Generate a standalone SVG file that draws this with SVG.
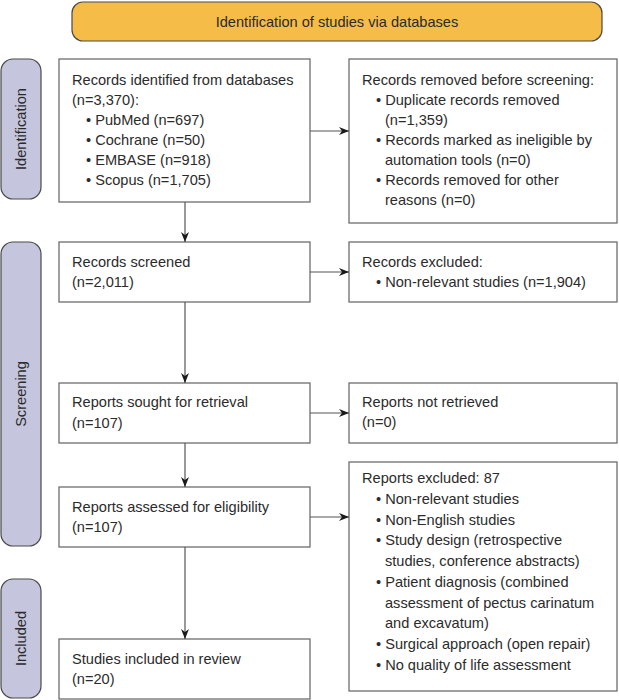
<svg xmlns="http://www.w3.org/2000/svg" width="619" height="700" viewBox="0 0 619 700">
<defs>
<marker id="arr" viewBox="0 0 10 8" refX="10" refY="4" markerWidth="10" markerHeight="8" markerUnits="userSpaceOnUse" orient="auto">
<path d="M0,0 L10,4 L0,8 L3,4 z" fill="#1a1a1a"/>
</marker>
<style>
text{font-family:"Liberation Sans",Arial,Helvetica,sans-serif;font-size:14.6px;fill:#2b2b2b}
.box{fill:#fff;stroke:#6e6e6e;stroke-width:1.3}
.pill{fill:#c5c6dd;stroke:#4a4a4a;stroke-width:1.2}
.banner{fill:#f5bd47;stroke:#4a4a4a;stroke-width:1.2}
.mid{text-anchor:middle}
.conn line{stroke:#555;stroke-width:1.2;marker-end:url(#arr)}
</style>
</defs>
<rect width="619" height="700" fill="#fff"/>
<g id="banner">
<rect class="banner" x="72" y="2" width="530" height="39" rx="11"/>
<text class="mid" x="337" y="26.5">Identification of studies via databases</text>
</g>
<g id="phase-identification">
<rect class="pill" x="1" y="59" width="40" height="140" rx="12"/>
<text class="mid" transform="translate(26,129) rotate(-90)">Identification</text>
</g>
<g id="phase-screening">
<rect class="pill" x="1" y="242" width="40" height="304" rx="12"/>
<text class="mid" transform="translate(26,394) rotate(-90)">Screening</text>
</g>
<g id="phase-included">
<rect class="pill" x="1" y="579" width="40" height="119" rx="12"/>
<text class="mid" transform="translate(26,638.5) rotate(-90)">Included</text>
</g>
<g id="records-identified">
<rect class="box" x="59" y="59" width="251" height="143"/>
<text x="72" y="85">Records identified from databases</text>
<text x="72" y="105">(n=3,370):</text>
<text x="86" y="125">• PubMed (n=697)</text>
<text x="86" y="145">• Cochrane (n=50)</text>
<text x="86" y="165">• EMBASE (n=918)</text>
<text x="86" y="185">• Scopus (n=1,705)</text>
</g>
<g id="records-removed">
<rect class="box" x="349" y="59" width="268" height="164"/>
<text x="362" y="85">Records removed before screening:</text>
<text x="376" y="105">• Duplicate records removed</text>
<text x="385" y="125">(n=1,359)</text>
<text x="376" y="145">• Records marked as ineligible by</text>
<text x="385" y="165">automation tools (n=0)</text>
<text x="376" y="185">• Records removed for other</text>
<text x="385" y="205">reasons (n=0)</text>
</g>
<g id="records-screened">
<rect class="box" x="59" y="242" width="251" height="60"/>
<text x="72" y="267">Records screened</text>
<text x="72" y="287">(n=2,011)</text>
</g>
<g id="records-excluded">
<rect class="box" x="349" y="242" width="268" height="60"/>
<text x="362" y="267">Records excluded:</text>
<text x="376" y="287">• Non-relevant studies (n=1,904)</text>
</g>
<g id="reports-sought">
<rect class="box" x="59" y="383" width="251" height="60"/>
<text x="72" y="407">Reports sought for retrieval</text>
<text x="72" y="428">(n=107)</text>
</g>
<g id="reports-not-retrieved">
<rect class="box" x="349" y="383" width="268" height="60"/>
<text x="362" y="407">Reports not retrieved</text>
<text x="362" y="427">(n=0)</text>
</g>
<g id="reports-assessed">
<rect class="box" x="59" y="487" width="251" height="60"/>
<text x="72" y="512">Reports assessed for eligibility</text>
<text x="72" y="532">(n=107)</text>
</g>
<g id="reports-excluded">
<rect class="box" x="349" y="462" width="268" height="229"/>
<text x="362" y="483.3">Reports excluded: 87</text>
<text x="376" y="504">• Non-relevant studies</text>
<text x="376" y="524.7">• Non-English studies</text>
<text x="376" y="545.4">• Study design (retrospective</text>
<text x="385" y="566.1">studies, conference abstracts)</text>
<text x="376" y="586.8">• Patient diagnosis (combined</text>
<text x="385" y="607.5">assessment of pectus carinatum</text>
<text x="385" y="628.2">and excavatum)</text>
<text x="376" y="648.9">• Surgical approach (open repair)</text>
<text x="376" y="669.6">• No quality of life assessment</text>
</g>
<g id="studies-included">
<rect class="box" x="59" y="639" width="251" height="60"/>
<text x="72" y="664">Studies included in review</text>
<text x="72" y="684">(n=20)</text>
</g>
<g class="conn" id="connectors">
<line x1="310" y1="131" x2="349" y2="131"/>
<line x1="310" y1="272" x2="349" y2="272"/>
<line x1="310" y1="413" x2="349" y2="413"/>
<line x1="310" y1="517" x2="349" y2="517"/>
<line x1="185" y1="202" x2="185" y2="242"/>
<line x1="185" y1="302" x2="185" y2="383"/>
<line x1="185" y1="443" x2="185" y2="487"/>
<line x1="185" y1="547" x2="185" y2="639"/>
</g>
</svg>
